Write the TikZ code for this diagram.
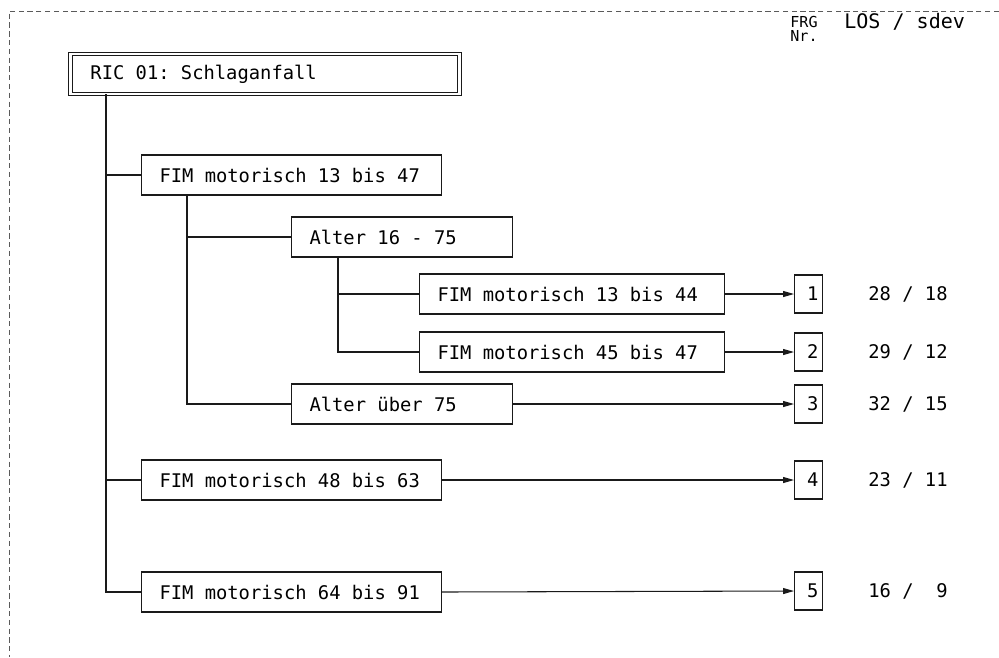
\documentclass[tikz,border=0pt]{standalone}
\usepackage{fontspec}
\usepackage{tikz}
\usetikzlibrary{arrows.meta,calc}
\newfontfamily\plotfont{DejaVu Sans Mono}
\definecolor{Ink}{HTML}{1A1A1A}
\definecolor{FrameGray}{HTML}{5A5A5A}
\newcommand{\plotsize}{\plotfont\fontsize{10.7}{13}\selectfont\frenchspacing}
\newcommand{\headsize}{\plotfont\fontsize{8.6}{10}\selectfont}
\tikzset{
  critbox/.style={
    draw=Ink,
    line width=0.6pt,
    anchor=west,
    minimum height=0.8cm,
    inner xsep=0.36cm,
    inner ysep=0pt,
    text width=#1,
    align=flush left,
    font=\plotsize
  },
  frgbox/.style={
    draw=Ink,
    line width=0.6pt,
    anchor=west,
    minimum height=0.76cm,
    inner xsep=0.08cm,
    inner ysep=0pt,
    text width=0.4cm,
    align=flush right,
    font=\plotsize
  },
  plain/.style={anchor=west, inner sep=0pt, font=\plotsize},
  link/.style={draw=Ink, line width=0.6pt},
  leadto/.style={link, -{Triangle[length=2.2mm,width=1.2mm]}}
}

\begin{document}
\begin{tikzpicture}[x=0.02cm, y=-0.02cm]
  \useasboundingbox (0,0) rectangle (999,657);
  % frame of the sheet
  \draw[FrameGray, line width=0.5pt, densely dashed] (999,11) -- (9,11) -- (9,657);

  % column heads
  \node[plain, font=\headsize] (hfrg) at (790,22) {FRG};
  \node[plain, font=\headsize] (hnr) at (790,36) {Nr.};
  \node[plain, font=\plotfont\fontsize{11.4}{13}\selectfont] (hlos) at (844,22) {LOS / sdev};

  % root
  \node[critbox=6.98cm, inner xsep=0.4cm, minimum height=0.8cm,
        double=white, double distance=1.5pt, line width=0.5pt] (title) at (70,74) {RIC 01: Schlaganfall};

  % criteria
  \node[critbox=5.28cm] (c1) at (141,175) {FIM motorisch 13 bis 47};
  \node[critbox=3.70cm] (c2) at (291,237) {Alter 16 - 75};
  \node[critbox=5.38cm] (c3) at (419,294) {FIM motorisch 13 bis 44};
  \node[critbox=5.38cm] (c4) at (419,352) {FIM motorisch 45 bis 47};
  \node[critbox=3.70cm] (c5) at (291,404) {Alter über 75};
  \node[critbox=5.28cm] (c6) at (141,480) {FIM motorisch 48 bis 63};
  \node[critbox=5.28cm] (c7) at (141,592) {FIM motorisch 64 bis 91};

  % groups
  \node[frgbox] (r1) at (794,294) {1};
  \node[frgbox] (r2) at (794,352) {2};
  \node[frgbox] (r3) at (794,404) {3};
  \node[frgbox] (r4) at (794,480) {4};
  \node[frgbox] (r5) at (794,591) {5};

  \node[plain] (v1) at (868,294) {28 / 18};
  \node[plain] (v2) at (868,352) {29 / 12};
  \node[plain] (v3) at (868,404) {32 / 15};
  \node[plain] (v4) at (868,480) {23 / 11};
  \node[plain] (v5) at (868,591) {16 /\ \ 9};

  % tree lines
  \coordinate (k0) at ($(title.south west)+(36,0)$);
  \coordinate (k1) at ($(c1.south west)+(46,0)$);
  \coordinate (k2) at ($(c2.south west)+(47,0)$);
  \draw[link] (k0) |- (c7.west);
  \draw[link] (k0 |- c1.west) -- (c1.west);
  \draw[link] (k0 |- c6.west) -- (c6.west);
  \draw[link] (k1) |- (c5.west);
  \draw[link] (k1 |- c2.west) -- (c2.west);
  \draw[link] (k2) |- (c4.west);
  \draw[link] (k2 |- c3.west) -- (c3.west);

  % to the groups
  \draw[leadto] (c3.east) -- (r1.west);
  \draw[leadto] (c4.east) -- (r2.west);
  \draw[leadto] (c5.east) -- (r3.west);
  \draw[leadto] (c6.east) -- (r4.west);
  \draw[leadto] (c7.east) -- (r5.west);
\end{tikzpicture}
\end{document}
